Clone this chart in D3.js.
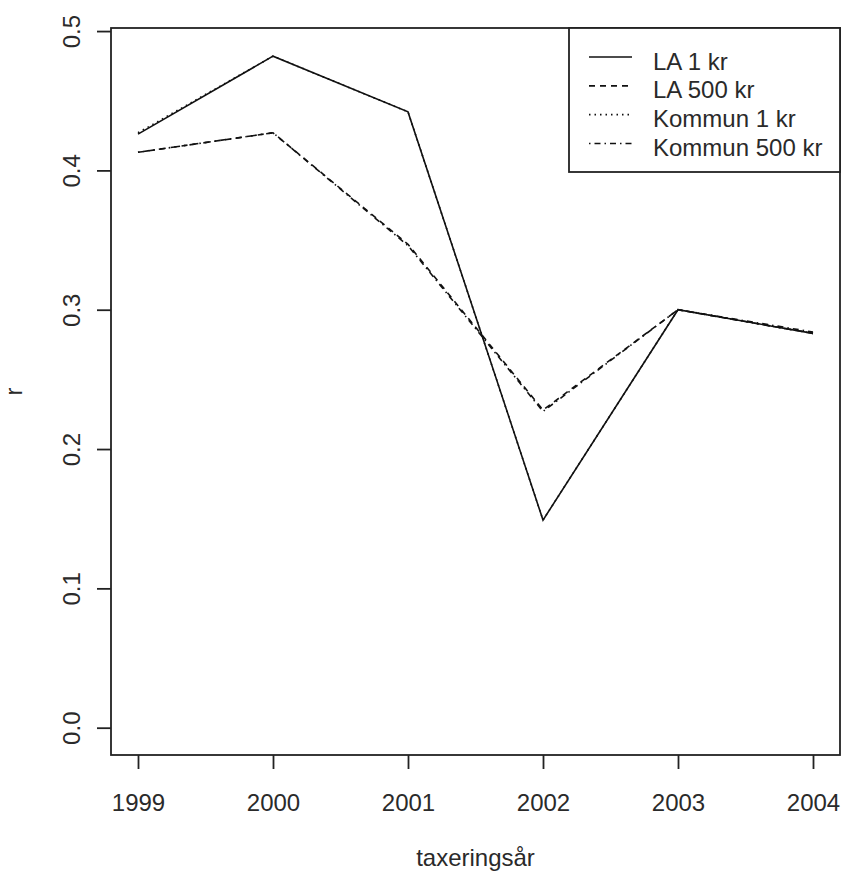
<!DOCTYPE html>
<html>
<head>
<meta charset="utf-8">
<script src="https://cdn.jsdelivr.net/npm/d3@7"></script>
<style>
  html, body { margin: 0; padding: 0; background: #fff; }
  svg text { font-family: "Liberation Sans", Arial, sans-serif; fill: #2a2a2a; }
</style>
</head>
<body>
<svg id="chart" width="843" height="873"></svg>
<script>
// Correlation r per assessment year
const years = [1999, 2000, 2001, 2002, 2003, 2004];
const la1 = [0.426, 0.482, 0.442, 0.149, 0.300, 0.283];
const la500 = [0.413, 0.427, 0.347, 0.228, 0.300, 0.283];
const kommun1 = [0.427, 0.482, 0.442, 0.149, 0.300, 0.283];
const kommun500 = [0.413, 0.427, 0.346, 0.227, 0.300, 0.284];
const seriesNames = ["LA 1 kr", "LA 500 kr", "Kommun 1 kr", "Kommun 500 kr"];
const yTicks = [0.0, 0.1, 0.2, 0.3, 0.4, 0.5];

const series = [
  { name: seriesNames[0], values: la1, dash: null },
  { name: seriesNames[1], values: la500, dash: "6,5" },
  { name: seriesNames[2], values: kommun1, dash: "1.5,4" },
  { name: seriesNames[3], values: kommun500, dash: "1.5,4,6,4" }
];

const svg = d3.select("#chart");
const box = { left: 111, right: 840, top: 28, bottom: 755 };
const ink = "#222";

svg.append("rect").attr("width", 843).attr("height", 873).attr("fill", "#fff");

// R-style padded ranges
const x = d3.scaleLinear().domain([1998.8, 2004.2]).range([box.left, box.right]);
const y = d3.scaleLinear().domain([-0.0196, 0.5022]).range([box.bottom, box.top]);

// Lines
const line = d3.line().x((d, i) => x(years[i])).y(d => y(d));
const plot = svg.append("g");
series.forEach(s => {
  plot.append("path")
    .datum(s.values)
    .attr("d", line)
    .attr("fill", "none")
    .attr("stroke", "#111")
    .attr("stroke-width", 1.6)
    .attr("stroke-dasharray", s.dash);
});

// Plot frame
svg.append("rect")
  .attr("x", box.left).attr("y", box.top)
  .attr("width", box.right - box.left).attr("height", box.bottom - box.top)
  .attr("fill", "none").attr("stroke", ink).attr("stroke-width", 1.8);

// X axis
const xAxis = svg.append("g").attr("transform", `translate(0,${box.bottom})`)
  .call(d3.axisBottom(x).tickValues(years).tickFormat(d3.format("d")).tickSize(14).tickPadding(0));
xAxis.select(".domain").remove();
xAxis.selectAll(".tick line").attr("stroke", ink).attr("stroke-width", 1.8);
xAxis.selectAll(".tick text")
  .attr("y", 56).attr("dy", null)
  .style("font-size", "24px").style("font-family", "Liberation Sans, Arial, sans-serif")
  .attr("fill", "#2a2a2a");

// Y axis
const yAxis = svg.append("g").attr("transform", `translate(${box.left},0)`)
  .call(d3.axisLeft(y).tickValues(yTicks).tickFormat(d3.format(".1f")).tickSize(14));
yAxis.select(".domain").remove();
yAxis.selectAll(".tick line").attr("stroke", ink).attr("stroke-width", 1.8);
yAxis.selectAll(".tick text")
  .attr("x", null).attr("dy", null)
  .attr("text-anchor", "middle")
  .attr("transform", "translate(-31,0) rotate(-90)")
  .style("font-size", "24px").style("font-family", "Liberation Sans, Arial, sans-serif")
  .attr("fill", "#2a2a2a");

// Axis titles
svg.append("text")
  .attr("x", (box.left + box.right) / 2).attr("y", 866)
  .attr("text-anchor", "middle").style("font-size", "24px")
  .text("taxeringsår");
svg.append("text")
  .attr("transform", `translate(22,${(box.top + box.bottom) / 2}) rotate(-90)`)
  .attr("text-anchor", "middle").style("font-size", "24px")
  .text("r");

// Legend
const lg = { x0: 569, y0: 28, x1: 840, y1: 172 };
svg.append("rect")
  .attr("x", lg.x0).attr("y", lg.y0)
  .attr("width", lg.x1 - lg.x0).attr("height", lg.y1 - lg.y0)
  .attr("fill", "#fff").attr("stroke", ink).attr("stroke-width", 1.8);
const rowY = d3.scaleLinear().domain([0, 3]).range([57, 143.5]);
series.forEach((s, i) => {
  const yy = rowY(i);
  svg.append("line")
    .attr("x1", 589).attr("x2", 632).attr("y1", yy).attr("y2", yy)
    .attr("stroke", "#111").attr("stroke-width", 1.6)
    .attr("stroke-dasharray", s.dash);
  svg.append("text")
    .attr("x", 653).attr("y", yy + 12.5)
    .style("font-size", "24px")
    .text(s.name);
});
</script>
</body>
</html>
